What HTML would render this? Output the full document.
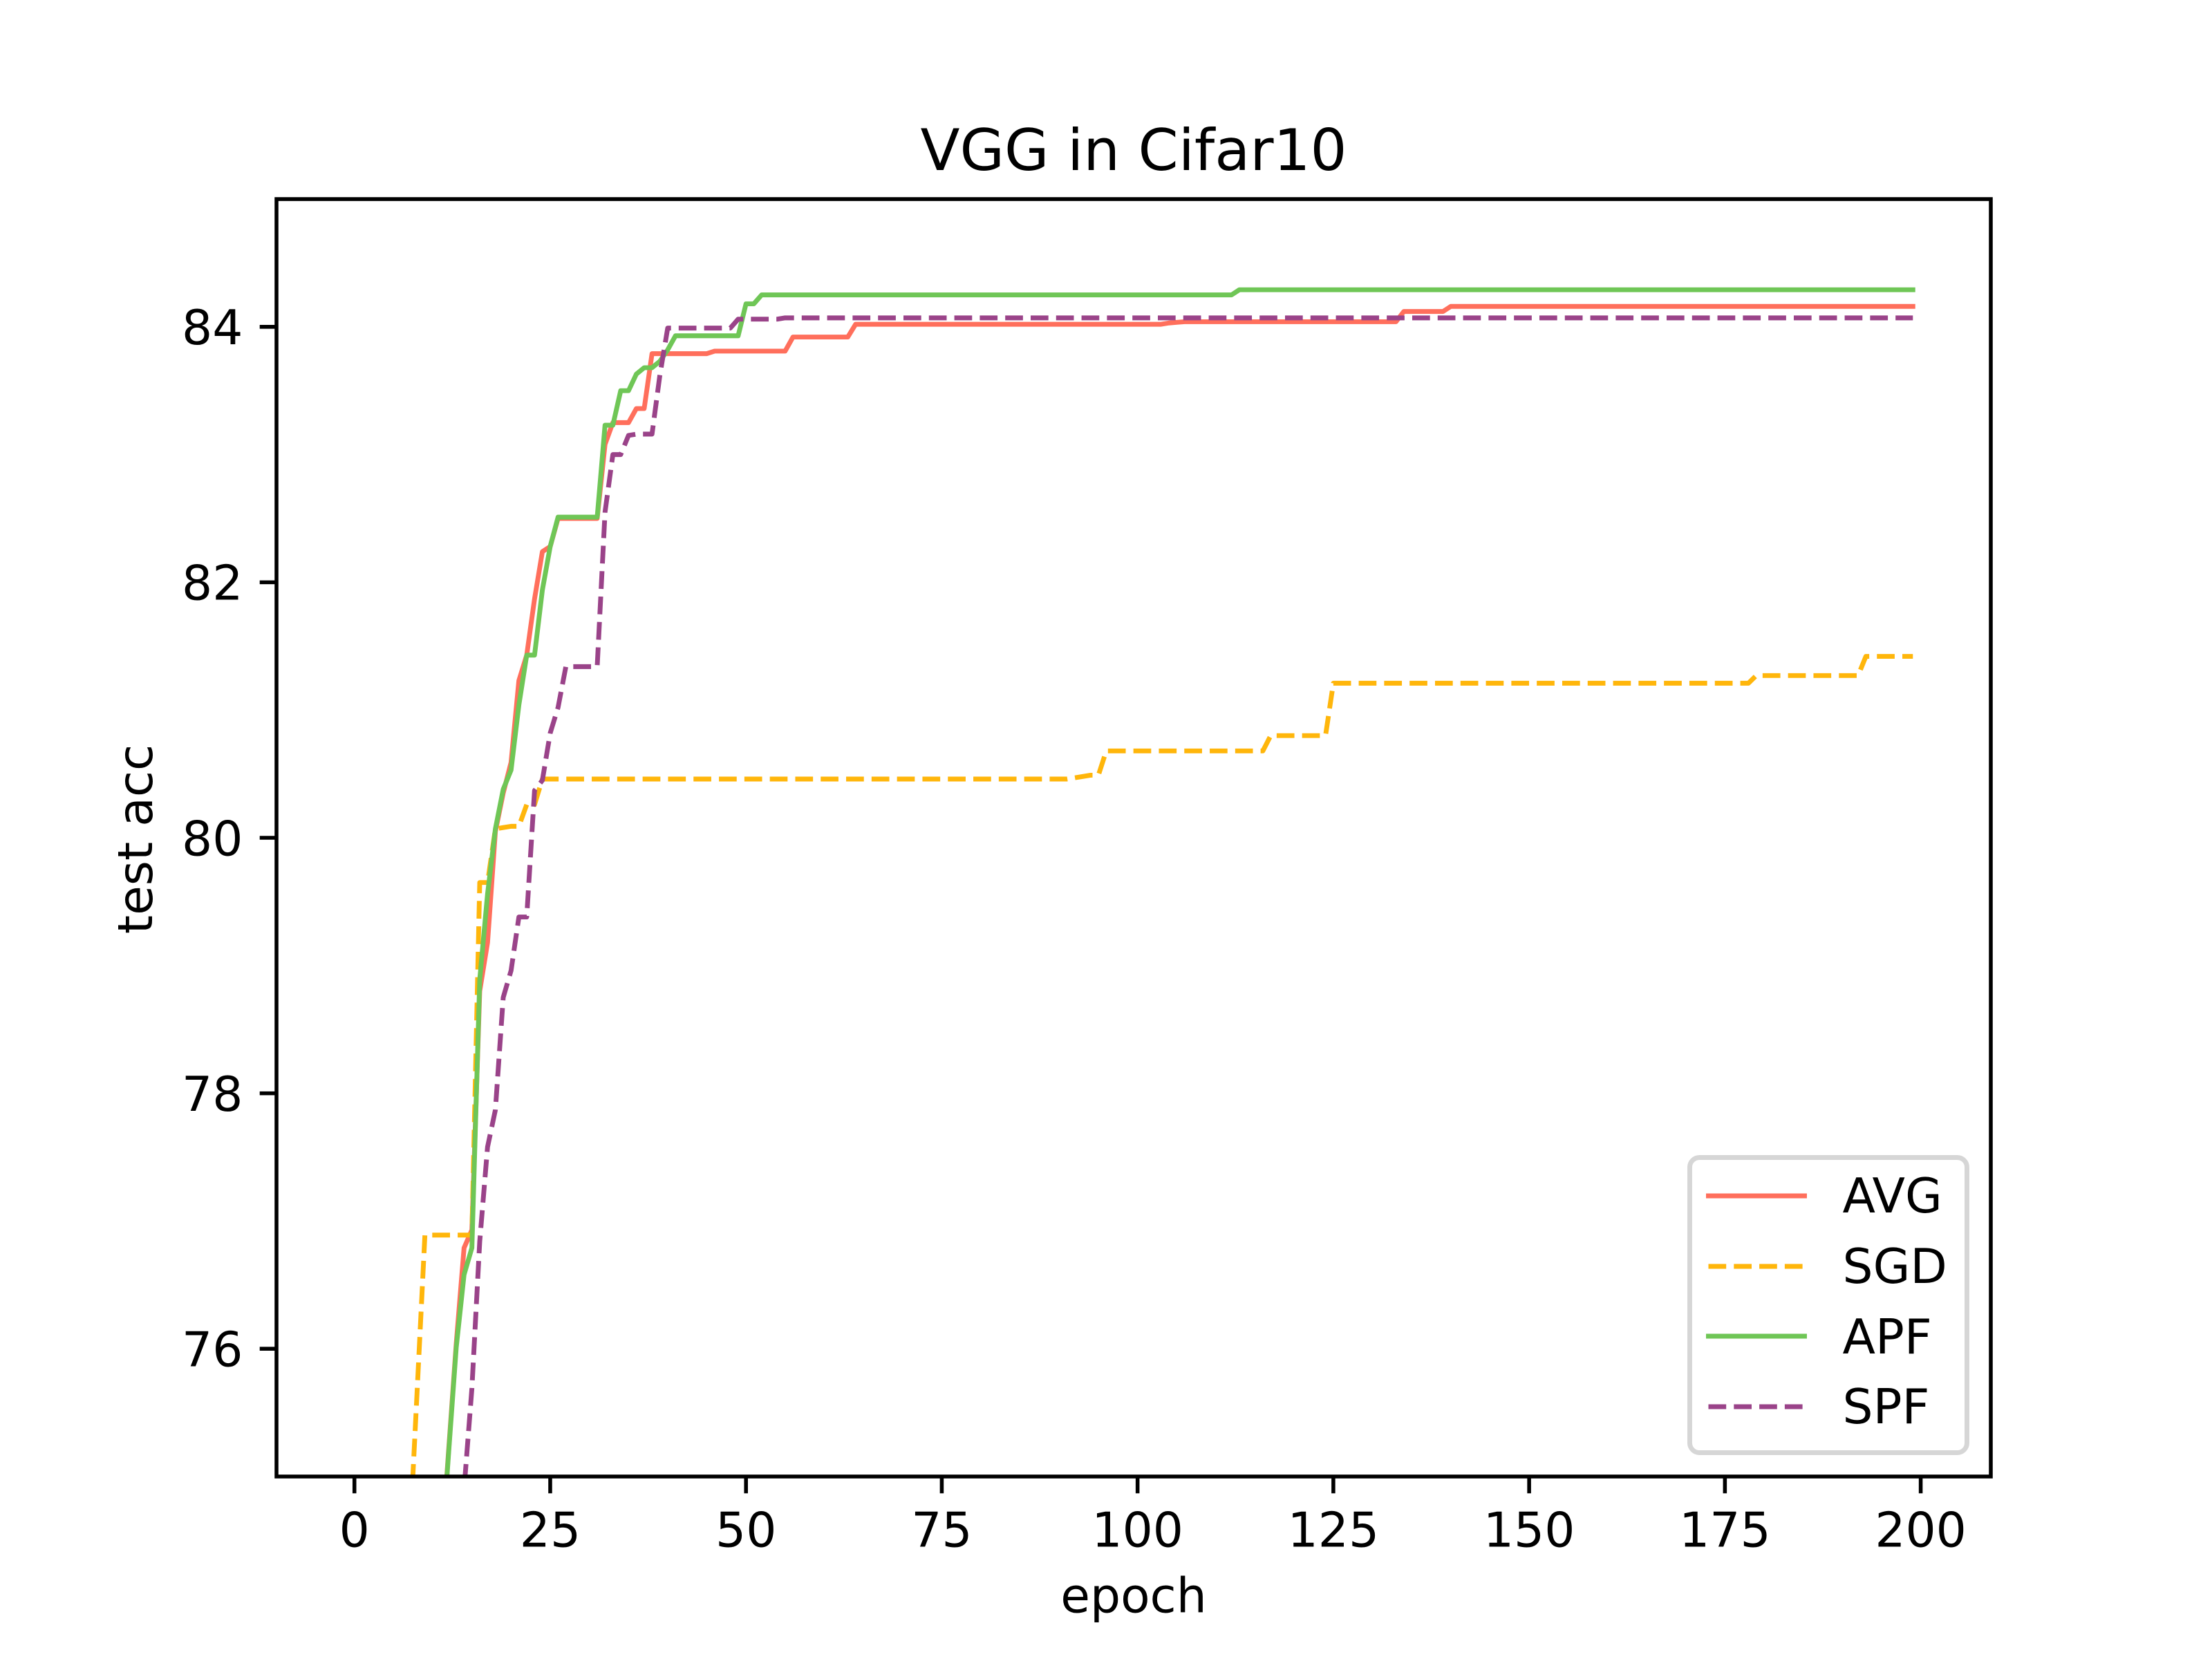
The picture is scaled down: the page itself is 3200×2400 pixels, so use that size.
<!DOCTYPE html>
<html lang="en">
<head>
<meta charset="utf-8">
<title>VGG in Cifar10</title>
<style>
html,body{margin:0;padding:0;background:#fff;width:3200px;height:2400px;overflow:hidden;}
svg{display:block;}
text{font-family:"DejaVu Sans","Liberation Sans",sans-serif;fill:#000;}
.tick-text{font-size:69.44px;}
</style>
</head>
<body>
<svg id="chart" xmlns="http://www.w3.org/2000/svg" width="3200" height="2400" viewBox="0 0 3200 2400">
  <defs>
    <clipPath id="plot-clip"><rect x="400" y="288" width="2480" height="1848"></rect></clipPath>
  </defs>
  <rect x="0" y="0" width="3200" height="2400" fill="#ffffff"></rect>
  <g id="series-layer" clip-path="url(#plot-clip)"></g>
  <g id="tick-layer"></g>
  <rect x="400" y="288" width="2480" height="1848" fill="none" stroke="#000" stroke-width="5.55"></rect>
  <text x="1640" y="246" font-size="83.33" text-anchor="middle">VGG in Cifar10</text>
  <text x="1640" y="2332.5" font-size="69.44" text-anchor="middle">epoch</text>
  <text transform="translate(220 1214) rotate(-90)" font-size="69.44" text-anchor="middle">test acc</text>
  <g>
    <rect x="2444.5" y="1674.5" width="401" height="427" rx="14" ry="14" fill="#ffffff" fill-opacity="0.8" stroke="#d6d6d6" stroke-width="6.94"></rect>
    <g>
      <line x1="2471.5" y1="1730" x2="2610.5" y2="1730" stroke="#ff6f5c" stroke-width="6.94" stroke-linecap="square"></line>
      <text x="2665.5" y="1754" font-size="69.44">AVG</text>
    </g>
    <g>
      <line x1="2471.5" y1="1832" x2="2610.5" y2="1832" stroke="#ffb60b" stroke-width="6.94" stroke-dasharray="25.7 11.1"></line>
      <text x="2665.5" y="1856" font-size="69.44">SGD</text>
    </g>
    <g>
      <line x1="2471.5" y1="1933" x2="2610.5" y2="1933" stroke="#6fc656" stroke-width="6.94" stroke-linecap="square"></line>
      <text x="2665.5" y="1958" font-size="69.44">APF</text>
    </g>
    <g>
      <line x1="2471.5" y1="2035" x2="2610.5" y2="2035" stroke="#9a4389" stroke-width="6.94" stroke-dasharray="25.7 11.1"></line>
      <text x="2665.5" y="2059" font-size="69.44">SPF</text>
    </g>
  </g>
</svg>
<script>
var xTicks = [0, 25, 50, 75, 100, 125, 150, 175, 200];
var yTicks = [76, 78, 80, 82, 84];

var avgValues = [
45,52,56,60,63,65,67,69,70.5,72,
73,74.3,75.18,76.04,76.79,76.93,78.8,79.18,80.05,80.35,
80.59,81.23,81.43,81.87,82.24,82.28,82.5,82.5,82.5,82.5,
82.5,82.5,83.08,83.25,83.25,83.25,83.36,83.36,83.79,83.79,
83.79,83.79,83.79,83.79,83.79,83.79,83.81,83.81,83.81,83.81,
83.81,83.81,83.81,83.81,83.81,83.81,83.92,83.92,83.92,83.92,
83.92,83.92,83.92,83.92,84.02,84.02,84.02,84.02,84.02,84.02,
84.02,84.02,84.02,84.02,84.02,84.02,84.02,84.02,84.02,84.02,
84.02,84.02,84.02,84.02,84.02,84.02,84.02,84.02,84.02,84.02,
84.02,84.02,84.02,84.02,84.02,84.02,84.02,84.02,84.02,84.02,
84.02,84.02,84.02,84.02,84.03,84.035,84.04,84.04,84.04,84.04,
84.04,84.04,84.04,84.04,84.04,84.04,84.04,84.04,84.04,84.04,
84.04,84.04,84.04,84.04,84.04,84.04,84.04,84.04,84.04,84.04,
84.04,84.04,84.04,84.04,84.12,84.12,84.12,84.12,84.12,84.12,
84.16,84.16,84.16,84.16,84.16,84.16,84.16,84.16,84.16,84.16,
84.16,84.16,84.16,84.16,84.16,84.16,84.16,84.16,84.16,84.16,
84.16,84.16,84.16,84.16,84.16,84.16,84.16,84.16,84.16,84.16,
84.16,84.16,84.16,84.16,84.16,84.16,84.16,84.16,84.16,84.16,
84.16,84.16,84.16,84.16,84.16,84.16,84.16,84.16,84.16,84.16,
84.16,84.16,84.16,84.16,84.16,84.16,84.16,84.16,84.16,84.16
];

var sgdValues = [
60,64,67,69,70.5,72,73.2,74.44,75.66,76.89,
76.89,76.89,76.89,76.89,76.89,76.89,79.65,79.65,80.07,80.08,
80.09,80.09,80.26,80.26,80.46,80.46,80.46,80.46,80.46,80.46,
80.46,80.46,80.46,80.46,80.46,80.46,80.46,80.46,80.46,80.46,
80.46,80.46,80.46,80.46,80.46,80.46,80.46,80.46,80.46,80.46,
80.46,80.46,80.46,80.46,80.46,80.46,80.46,80.46,80.46,80.46,
80.46,80.46,80.46,80.46,80.46,80.46,80.46,80.46,80.46,80.46,
80.46,80.46,80.46,80.46,80.46,80.46,80.46,80.46,80.46,80.46,
80.46,80.46,80.46,80.46,80.46,80.46,80.46,80.46,80.46,80.46,
80.46,80.46,80.47,80.48,80.49,80.49,80.68,80.68,80.68,80.68,
80.68,80.68,80.68,80.68,80.68,80.68,80.68,80.68,80.68,80.68,
80.68,80.68,80.68,80.68,80.68,80.68,80.68,80.8,80.8,80.8,
80.8,80.8,80.8,80.8,80.8,81.21,81.21,81.21,81.21,81.21,
81.21,81.21,81.21,81.21,81.21,81.21,81.21,81.21,81.21,81.21,
81.21,81.21,81.21,81.21,81.21,81.21,81.21,81.21,81.21,81.21,
81.21,81.21,81.21,81.21,81.21,81.21,81.21,81.21,81.21,81.21,
81.21,81.21,81.21,81.21,81.21,81.21,81.21,81.21,81.21,81.21,
81.21,81.21,81.21,81.21,81.21,81.21,81.21,81.21,81.21,81.27,
81.27,81.27,81.27,81.27,81.27,81.27,81.27,81.27,81.27,81.27,
81.27,81.27,81.27,81.42,81.42,81.42,81.42,81.42,81.42,81.42
];

var apfValues = [
44,50,55,59,62,64.5,66.5,68.5,70,71.5,
73,74.3,75.16,76.01,76.58,76.79,78.89,79.56,80.07,80.38,
80.53,81.04,81.43,81.43,81.94,82.28,82.51,82.51,82.51,82.51,
82.51,82.51,83.23,83.23,83.5,83.5,83.63,83.68,83.68,83.73,
83.82,83.93,83.93,83.93,83.93,83.93,83.93,83.93,83.93,83.93,
84.18,84.18,84.25,84.25,84.25,84.25,84.25,84.25,84.25,84.25,
84.25,84.25,84.25,84.25,84.25,84.25,84.25,84.25,84.25,84.25,
84.25,84.25,84.25,84.25,84.25,84.25,84.25,84.25,84.25,84.25,
84.25,84.25,84.25,84.25,84.25,84.25,84.25,84.25,84.25,84.25,
84.25,84.25,84.25,84.25,84.25,84.25,84.25,84.25,84.25,84.25,
84.25,84.25,84.25,84.25,84.25,84.25,84.25,84.25,84.25,84.25,
84.25,84.25,84.25,84.29,84.29,84.29,84.29,84.29,84.29,84.29,
84.29,84.29,84.29,84.29,84.29,84.29,84.29,84.29,84.29,84.29,
84.29,84.29,84.29,84.29,84.29,84.29,84.29,84.29,84.29,84.29,
84.29,84.29,84.29,84.29,84.29,84.29,84.29,84.29,84.29,84.29,
84.29,84.29,84.29,84.29,84.29,84.29,84.29,84.29,84.29,84.29,
84.29,84.29,84.29,84.29,84.29,84.29,84.29,84.29,84.29,84.29,
84.29,84.29,84.29,84.29,84.29,84.29,84.29,84.29,84.29,84.29,
84.29,84.29,84.29,84.29,84.29,84.29,84.29,84.29,84.29,84.29,
84.29,84.29,84.29,84.29,84.29,84.29,84.29,84.29,84.29,84.29
];

var spfValues = [
40,46,50,54,57,60,62,64,66,68,
70,71.5,73,74.2,74.9,75.69,76.84,77.58,77.87,78.75,
78.96,79.38,79.38,80.37,80.45,80.82,81.02,81.34,81.34,81.34,
81.34,81.34,82.55,83,83,83.15,83.16,83.16,83.16,83.62,
83.99,83.99,83.99,83.99,83.99,83.99,83.99,83.99,83.99,84.06,
84.06,84.06,84.06,84.06,84.06,84.07,84.07,84.07,84.07,84.07,
84.07,84.07,84.07,84.07,84.07,84.07,84.07,84.07,84.07,84.07,
84.07,84.07,84.07,84.07,84.07,84.07,84.07,84.07,84.07,84.07,
84.07,84.07,84.07,84.07,84.07,84.07,84.07,84.07,84.07,84.07,
84.07,84.07,84.07,84.07,84.07,84.07,84.07,84.07,84.07,84.07,
84.07,84.07,84.07,84.07,84.07,84.07,84.07,84.07,84.07,84.07,
84.07,84.07,84.07,84.07,84.07,84.07,84.07,84.07,84.07,84.07,
84.07,84.07,84.07,84.07,84.07,84.07,84.07,84.07,84.07,84.07,
84.07,84.07,84.07,84.07,84.07,84.07,84.07,84.07,84.07,84.07,
84.07,84.07,84.07,84.07,84.07,84.07,84.07,84.07,84.07,84.07,
84.07,84.07,84.07,84.07,84.07,84.07,84.07,84.07,84.07,84.07,
84.07,84.07,84.07,84.07,84.07,84.07,84.07,84.07,84.07,84.07,
84.07,84.07,84.07,84.07,84.07,84.07,84.07,84.07,84.07,84.07,
84.07,84.07,84.07,84.07,84.07,84.07,84.07,84.07,84.07,84.07,
84.07,84.07,84.07,84.07,84.07,84.07,84.07,84.07,84.07,84.07
];

var SVG_NS = 'http://www.w3.org/2000/svg';
var Y_MIN = 75;
var DASH_ON = 25.7;
var DASH_PERIOD = 36.8;
var DASH_END_Y = 2118;

function xScale(epoch) { return 400 + (epoch + 9.95) / 218.9 * 2480; }
function yScale(value) { return 2136 - (value - Y_MIN) / 10 * 1848; }

/* Points far below the axis are never visible: start each line at the last point under the y-limit. */
function firstDrawnIndex(values) {
  for (var i = 0; i < values.length - 1; i++) {
    if (values[i + 1] >= Y_MIN) { return i; }
  }
  return 0;
}

function dashOffsetFor(values) {
  var length = 0;
  for (var i = firstDrawnIndex(values) + 1; i < values.length; i++) {
    var x0 = xScale(i - 1), y0 = yScale(values[i - 1]);
    var x1 = xScale(i), y1 = yScale(values[i]);
    var segment = Math.hypot(x1 - x0, y1 - y0);
    if (y1 <= DASH_END_Y) {
      var share = y0 > DASH_END_Y ? (y0 - DASH_END_Y) / (y0 - y1) : 0;
      return DASH_ON - (length + segment * share);
    }
    length += segment;
  }
  return 0;
}

function pathFor(values) {
  var start = firstDrawnIndex(values);
  var parts = [];
  for (var i = start; i < values.length; i++) {
    parts.push((i === start ? 'M' : 'L') + xScale(i).toFixed(2) + ' ' + yScale(values[i]).toFixed(2));
  }
  return parts.join(' ');
}

var seriesLayer = document.getElementById('series-layer');
var tickLayer = document.getElementById('tick-layer');

var avgPath = document.createElementNS(SVG_NS, 'path');


avgPath.setAttribute('d', pathFor(avgValues));
avgPath.setAttribute('fill', 'none');
avgPath.setAttribute('stroke', '#ff6f5c');
avgPath.setAttribute('stroke-width', '6.94');
avgPath.setAttribute('stroke-linejoin', 'round');
avgPath.setAttribute('stroke-linecap', 'square');
seriesLayer.appendChild(avgPath);

var sgdPath = document.createElementNS(SVG_NS, 'path');


sgdPath.setAttribute('d', pathFor(sgdValues));
sgdPath.setAttribute('fill', 'none');
sgdPath.setAttribute('stroke', '#ffb60b');
sgdPath.setAttribute('stroke-width', '6.94');
sgdPath.setAttribute('stroke-linejoin', 'round');
sgdPath.setAttribute('stroke-dasharray', DASH_ON + ' ' + (DASH_PERIOD - DASH_ON));
sgdPath.setAttribute('stroke-dashoffset', dashOffsetFor(sgdValues).toFixed(2));
seriesLayer.appendChild(sgdPath);

var apfPath = document.createElementNS(SVG_NS, 'path');


apfPath.setAttribute('d', pathFor(apfValues));
apfPath.setAttribute('fill', 'none');
apfPath.setAttribute('stroke', '#6fc656');
apfPath.setAttribute('stroke-width', '6.94');
apfPath.setAttribute('stroke-linejoin', 'round');
apfPath.setAttribute('stroke-linecap', 'square');
seriesLayer.appendChild(apfPath);

var spfPath = document.createElementNS(SVG_NS, 'path');


spfPath.setAttribute('d', pathFor(spfValues));
spfPath.setAttribute('fill', 'none');
spfPath.setAttribute('stroke', '#9a4389');
spfPath.setAttribute('stroke-width', '6.94');
spfPath.setAttribute('stroke-linejoin', 'round');
spfPath.setAttribute('stroke-dasharray', DASH_ON + ' ' + (DASH_PERIOD - DASH_ON));
spfPath.setAttribute('stroke-dashoffset', dashOffsetFor(spfValues).toFixed(2));
seriesLayer.appendChild(spfPath);

xTicks.forEach(function (tick) {
  var mark = document.createElementNS(SVG_NS, 'line');
  
  
  mark.setAttribute('x1', xScale(tick));
  mark.setAttribute('x2', xScale(tick));
  mark.setAttribute('y1', 2136);
  mark.setAttribute('y2', 2160.3);
  mark.setAttribute('stroke', '#000');
  mark.setAttribute('stroke-width', '5.55');
  tickLayer.appendChild(mark);

  var label = document.createElementNS(SVG_NS, 'text');
  
  
  label.setAttribute('class', 'tick-text');
  label.setAttribute('x', xScale(tick));
  label.setAttribute('y', 2237.5);
  label.setAttribute('text-anchor', 'middle');
  label.textContent = String(tick);
  tickLayer.appendChild(label);
});

yTicks.forEach(function (tick) {
  var mark = document.createElementNS(SVG_NS, 'line');
  
  
  mark.setAttribute('x1', 375.7);
  mark.setAttribute('x2', 400);
  mark.setAttribute('y1', yScale(tick));
  mark.setAttribute('y2', yScale(tick));
  mark.setAttribute('stroke', '#000');
  mark.setAttribute('stroke-width', '5.55');
  tickLayer.appendChild(mark);

  var label = document.createElementNS(SVG_NS, 'text');
  
  
  label.setAttribute('class', 'tick-text');
  label.setAttribute('x', 351.4);
  label.setAttribute('y', yScale(tick) + 25.3);
  label.setAttribute('text-anchor', 'end');
  label.textContent = String(tick);
  tickLayer.appendChild(label);
});
</script>
</body>
</html>
